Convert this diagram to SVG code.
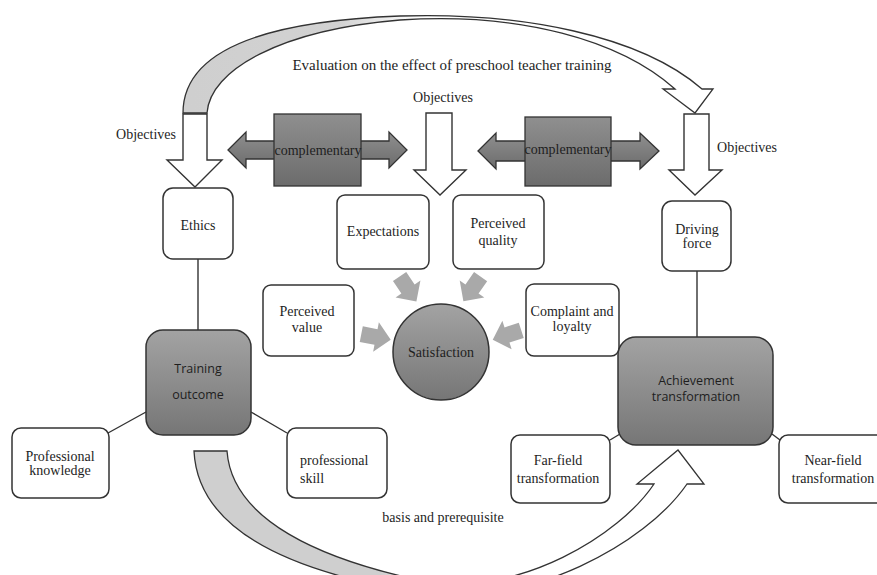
<svg xmlns="http://www.w3.org/2000/svg" width="877" height="575" viewBox="0 0 877 575">
<defs>
<linearGradient id="dark" x1="0" y1="0" x2="0" y2="1"><stop offset="0" stop-color="#a3a3a3"/><stop offset="1" stop-color="#767676"/></linearGradient>
<linearGradient id="comp" x1="0" y1="0" x2="0" y2="1"><stop offset="0" stop-color="#8f8f8f"/><stop offset="1" stop-color="#6c6c6c"/></linearGradient>
<linearGradient id="topband" gradientUnits="userSpaceOnUse" x1="190" y1="0" x2="420" y2="0"><stop offset="0" stop-color="#cfcfcf"/><stop offset="0.65" stop-color="#d2d2d2"/><stop offset="1" stop-color="#ffffff"/></linearGradient>
<linearGradient id="botband" gradientUnits="userSpaceOnUse" x1="380" y1="0" x2="440" y2="0"><stop offset="0" stop-color="#cfcfcf"/><stop offset="1" stop-color="#ffffff"/></linearGradient>
<path id="fat" d="M0,-8 L-15,-8 L-15,8 L0,8 L0,15 L15,0 L0,-15 Z"/>
</defs>
<style>
.box{fill:#fff;stroke:#333;stroke-width:1.5}
.dk{fill:url(#dark);stroke:#333;stroke-width:1.5}
.cp{fill:url(#comp);stroke:#333;stroke-width:1.3}
.wa{fill:#fff;stroke:#333;stroke-width:1.4}
.ln{stroke:#333;stroke-width:1.4;fill:none}
.ga{fill:#a9a9a9}
text{font-family:"Liberation Serif","Times New Roman",serif;font-size:14px;fill:#1e1e1e;text-anchor:middle}
.sans{font-family:"Open Sans","Noto Sans",sans-serif;font-size:12.5px}
</style>
<rect width="877" height="575" fill="#fff"/>

<g id="connectors">
<path d="M183,113 C183,60 240,22 400,16 C520,12 640,35 702,89 L713,89 L695,113 L663,89 L675,89 C620,40 520,12 400,20 C280,30 210,70 207,113 Z" fill="url(#topband)" stroke="#333" stroke-width="1.3"/>
<path d="M194,451 C198,535 300,575 428,594 C530,606 645,545 687,484 L704,484 L678,450 L637,484 L654,484 C620,535 520,596 428,582 C320,560 232,520 227,451 Z" fill="url(#botband)" stroke="#333" stroke-width="1.3"/>
<polygon class="wa" points="183,114 207,114 207,160 222,160 195,187 167,160 183,160"/>
<polygon class="wa" points="426,113 452,113 452,170 466,170 440,195 414,170 426,170"/>
<polygon class="wa" points="684,114 709,114 709,170 722,170 695,195 669,170 684,170"/>
<line class="ln" x1="198" y1="259" x2="198" y2="330"/>
<line class="ln" x1="697" y1="271" x2="697" y2="337"/>
<line class="ln" x1="108" y1="433" x2="146" y2="412"/>
<line class="ln" x1="251" y1="412" x2="287" y2="433"/>
<line class="ln" x1="610" y1="440" x2="620" y2="434"/>
<line class="ln" x1="772" y1="434" x2="780" y2="440"/>
<use href="#fat" class="ga" transform="translate(408,289) rotate(56)"/>
<use href="#fat" class="ga" transform="translate(472,289) rotate(125)"/>
<use href="#fat" class="ga" transform="translate(376,337) rotate(11)"/>
<use href="#fat" class="ga" transform="translate(507,335) rotate(162)"/>
</g>

<g id="comp-left">
<polygon class="cp" points="228,150 246,132 246,141 389,141 389,132 407,150 389,168 389,159 246,159 246,168"/>
<rect class="cp" x="274" y="114" width="87" height="72"/>
<text x="318" y="155">complementary</text>
</g>
<g id="comp-right">
<polygon class="cp" points="478,151 496,133 496,141 640,141 640,133 659,151 640,169 640,161 496,161 496,169"/>
<rect class="cp" x="525" y="117" width="86" height="69"/>
<text x="568" y="154">complementary</text>
</g>

<g id="labels">
<text x="452" y="70" style="font-size:15px">Evaluation on the effect of preschool teacher training</text>
<text x="443" y="102">Objectives</text>
<text x="146" y="139">Objectives</text>
<text x="747" y="152">Objectives</text>
<text x="443" y="522">basis and prerequisite</text>
</g>

<g id="ethics"><rect class="box" x="163" y="188" width="70" height="71" rx="10"/><text x="198" y="230">Ethics</text></g>
<g id="expectations"><rect class="box" x="337" y="195" width="92" height="74" rx="8"/><text x="383" y="236">Expectations</text></g>
<g id="perceived-quality"><rect class="box" x="453" y="195" width="91" height="74" rx="8"/><text x="498" y="228">Perceived</text><text x="498" y="245">quality</text></g>
<g id="driving-force"><rect class="box" x="662" y="201" width="69" height="70" rx="10"/><text x="697" y="234">Driving</text><text x="697" y="248">force</text></g>
<g id="perceived-value"><rect class="box" x="263" y="285" width="91" height="71" rx="8"/><text x="307" y="316">Perceived</text><text x="307" y="332">value</text></g>
<g id="complaint"><rect class="box" x="526" y="284" width="93" height="72" rx="8"/><text x="572" y="316">Complaint and</text><text x="572" y="331">loyalty</text></g>
<g id="satisfaction"><circle class="dk" cx="441" cy="352" r="48"/><text x="441" y="357" style="font-size:14px">Satisfaction</text></g>
<g id="training-outcome"><rect class="dk" x="146" y="330" width="105" height="105" rx="17"/><text class="sans" x="198" y="373">Training</text><text class="sans" x="198" y="399">outcome</text></g>
<g id="achievement"><rect class="dk" x="618" y="337" width="155" height="108" rx="18"/><text class="sans" x="696" y="385">Achievement</text><text class="sans" x="696" y="401">transformation</text></g>
<g id="professional-knowledge"><rect class="box" x="12" y="428" width="97" height="70" rx="9"/><text x="60" y="461">Professional</text><text x="60" y="475">knowledge</text></g>
<g id="professional-skill"><rect class="box" x="287" y="428" width="100" height="70" rx="9"/><text x="300" y="465" style="text-anchor:start">professional</text><text x="300" y="483" style="text-anchor:start">skill</text></g>
<g id="far-field"><rect class="box" x="511" y="435" width="99" height="68" rx="9"/><text x="558" y="465">Far-field</text><text x="558" y="483">transformation</text></g>
<g id="near-field"><rect class="box" x="779" y="435" width="110" height="68" rx="9"/><text x="833" y="465">Near-field</text><text x="833" y="483">transformation</text></g>
</svg>
